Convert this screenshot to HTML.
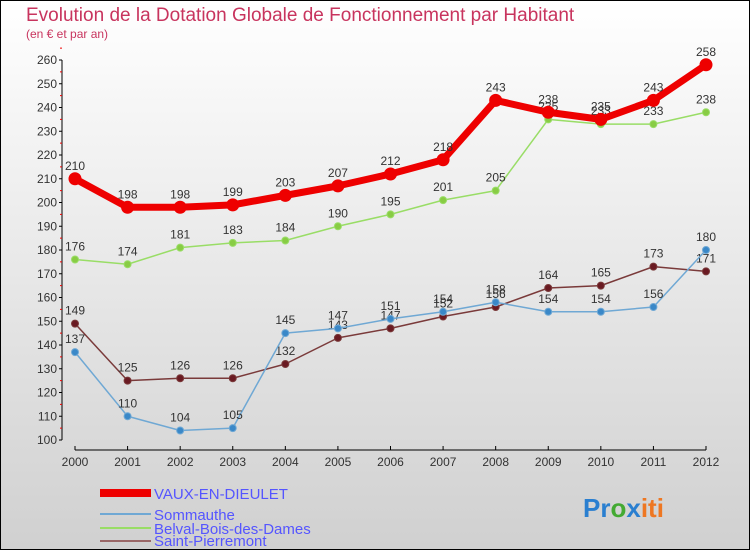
<!DOCTYPE html>
<html><head><meta charset="utf-8"><style>
html,body{margin:0;padding:0}
body{width:750px;height:550px;overflow:hidden;font-family:"Liberation Sans",sans-serif}
</style></head><body>
<svg width="750" height="550" viewBox="0 0 750 550" xmlns="http://www.w3.org/2000/svg" font-family="Liberation Sans, sans-serif">
<defs><linearGradient id="bg" x1="0" y1="0" x2="0" y2="1"><stop offset="0" stop-color="#ffffff"/><stop offset="1" stop-color="#d0d0d0"/></linearGradient></defs>
<rect x="0.5" y="0.5" width="749" height="549" fill="url(#bg)" stroke="#000"/>
<text x="26" y="21" font-size="19" fill="#c8345e">Evolution de la Dotation Globale de Fonctionnement par Habitant</text>
<text x="26" y="38" font-size="12" fill="#c8345e">(en € et par an)</text>
<g id="axes"></g>
<g id="series"></g>
<g font-size="15" fill="#5555ff">
<rect x="100" y="489" width="51" height="8" fill="#e00"/>
<text x="154" y="499">VAUX-EN-DIEULET</text>
<line x1="100" y1="514" x2="151" y2="514" stroke="#6fa8d4" stroke-width="2"/>
<text x="154" y="520">Sommauthe</text>
<line x1="100" y1="528" x2="151" y2="528" stroke="#99dd66" stroke-width="2"/>
<text x="154" y="534">Belval-Bois-des-Dames</text>
<line x1="100" y1="541" x2="151" y2="541" stroke="#996666" stroke-width="2"/>
<text x="154" y="546">Saint-Pierremont</text>
</g>
<text x="583" y="517" font-size="26" font-weight="bold"><tspan fill="#2a7fd0">Pr</tspan><tspan fill="#44aa33">o</tspan><tspan fill="#2a7fd0">x</tspan><tspan fill="#ee7722">iti</tspan></text>
</svg>
<script>
const years = [2000,2001,2002,2003,2004,2005,2006,2007,2008,2009,2010,2011,2012];
const yTicks = [100,110,120,130,140,150,160,170,180,190,200,210,220,230,240,250,260];
const vaux = [210,198,198,199,203,207,212,218,243,238,235,243,258];
const sommauthe = [137,110,104,105,145,147,151,154,158,154,154,156,180];
const belval = [176,174,181,183,184,190,195,201,205,235,233,233,238];
const saintPierremont = [149,125,126,126,132,143,147,152,156,164,165,173,171];

const NS="http://www.w3.org/2000/svg";
function xS(i){return 75+(706-75)*i/(years.length-1);}
function yS(v){return 440-(v-100)*(380/160);}
function mk(tag,attrs,parent){const e=document.createElementNS(NS,tag);for(const k in attrs)e.setAttribute(k,attrs[k]);parent.appendChild(e);return e;}
const axes=document.getElementById('axes');
const ya=mk('line',{x1:62,y1:yS(260),x2:62,y2:yS(100),stroke:'#000','stroke-width':1},axes);


yTicks.forEach(v=>{
  const t=mk('line',{x1:59,x2:62,y1:yS(v),y2:yS(v),stroke:'#000'},axes);
  
  
  const m=mk('line',{x1:60,x2:62,y1:yS(v+5),y2:yS(v+5),stroke:'#e00'},axes);
  
  
  const l=mk('text',{x:57,y:yS(v)+4,'font-size':12,'text-anchor':'end',fill:'#333'},axes);
  l.textContent=v;
  
  
});
const xa=mk('line',{x1:75,y1:450,x2:706,y2:450,stroke:'#000'},axes);


years.forEach((y,i)=>{
  const t=mk('line',{x1:xS(i),x2:xS(i),y1:446,y2:450,stroke:'#000'},axes);
  
  
  const l=mk('text',{x:xS(i),y:466,'font-size':12,'text-anchor':'middle',fill:'#333'},axes);
  l.textContent=y;
  
  
});
const sg=document.getElementById('series');
function draw(vals,color,w,r,name,dot){
  const g=mk('g',{},sg);
  
  
  const p=mk('polyline',{points:vals.map((v,i)=>xS(i)+','+yS(v)).join(' '),fill:'none',stroke:color,'stroke-width':w,'stroke-linejoin':'round'},g);
  
  
  vals.forEach((v,i)=>{
    const c=mk('circle',{cx:xS(i),cy:yS(v),r:r,fill:dot,stroke:color,'stroke-width':1},g);
    
    
    const t=mk('text',{x:xS(i),y:yS(v)-9,'font-size':12,'text-anchor':'middle',fill:'#333'},g);
    t.textContent=v;
    
    
  });
}
draw(saintPierremont,'#7a3a3a',1.5,3.5,'saint-pierremont','#6a1a22');
draw(belval,'#99dd66',1.5,3.5,'belval','#88cc44');
draw(sommauthe,'#6fa8d4',1.5,3.5,'sommauthe','#3a88c8');
draw(vaux,'#ee0000',7,6,'vaux','#ee0000');
</script>
</body></html>
